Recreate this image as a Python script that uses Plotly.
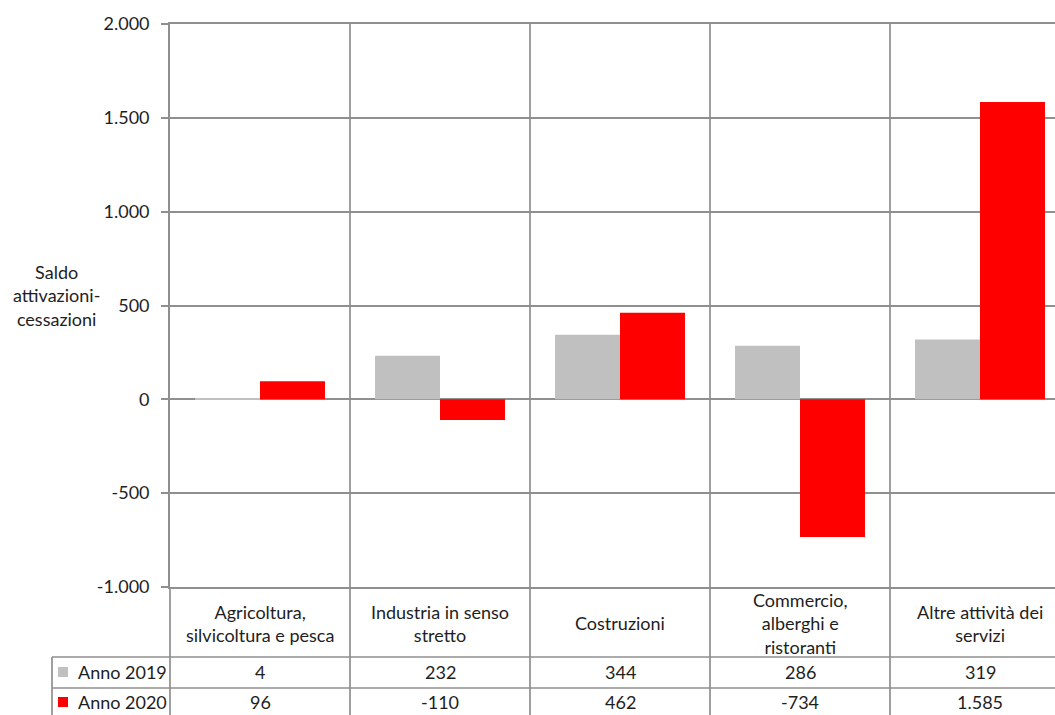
import plotly.graph_objects as go

# ---------------- data ----------------
CATEGORIES = [
    "Agricoltura,<br>silvicoltura e pesca",
    "Industria in senso<br>stretto",
    "Costruzioni",
    "Commercio,<br>alberghi e<br>ristoranti",
    "Altre attività dei<br>servizi",
]
SERIES_NAMES = ["Anno 2019", "Anno 2020"]
VALUES_2019 = [4, 232, 344, 286, 319]
VALUES_2020 = [96, -110, 462, -734, 1585]
TICK_VALUES = [-1000, -500, 0, 500, 1000, 1500, 2000]
TICK_LABELS = ["-1.000", "-500", "0", "500", "1.000", "1.500", "2.000"]
Y_TITLE = "Saldo<br>attivazioni-<br>cessazioni"

# ---------------- style ----------------
COLORS = ["#C0C0C0", "#FF0000"]
GRID = "#8f8f8f"
LW = 1.7
TXT = "#1e1e1e"
FONT = "Lato"
FS = 18

W, H = 1055, 715
L, R, T, B = 170, 1055, 24, 587        # plot area in pixels


def xp(px):
    return (px - L) / (R - L)


def yp(py):
    return (B - py) / (B - T)


def it(v):
    return f"{v:,}".replace(",", ".")


x = list(range(len(CATEGORIES)))
series = [VALUES_2019, VALUES_2020]

fig = go.Figure()
for name, vals, col in zip(SERIES_NAMES, series, COLORS):
    fig.add_trace(go.Bar(x=x, y=vals, name=name, marker=dict(color=col, line=dict(width=0)),
                         hoverinfo="y"))

shapes = []
annotations = []

# vertical category separators through plot and table
for i in range(len(CATEGORIES)):
    b = i + 0.5
    shapes.append(dict(type="line", xref="x", yref="paper", x0=b, x1=b, y0=yp(719), y1=1,
                       line=dict(color=GRID, width=LW), layer="below"))
# left border of table header column
shapes.append(dict(type="line", xref="paper", yref="paper", x0=0, x1=0, y0=yp(719), y1=0,
                   line=dict(color=GRID, width=LW)))
# table horizontal lines
for py in (657, 688):
    shapes.append(dict(type="line", xref="paper", yref="paper", x0=xp(52), x1=1, y0=yp(py), y1=yp(py),
                       line=dict(color=GRID, width=LW)))
shapes.append(dict(type="line", xref="paper", yref="paper", x0=xp(52), x1=xp(52), y0=yp(719), y1=yp(657),
                   line=dict(color=GRID, width=LW)))

# category labels
for i, c in enumerate(CATEGORIES):
    annotations.append(dict(xref="x", yref="paper", x=i, y=yp(623), text=c, showarrow=False,
                            xanchor="center", yanchor="middle", align="center",
                            font=dict(family=FONT, size=FS, color=TXT)))

# table rows
row_y = [672, 702]
for r, (name, vals, col) in enumerate(zip(SERIES_NAMES, series, COLORS)):
    cy = row_y[r]
    shapes.append(dict(type="rect", xref="paper", yref="paper", x0=xp(58), x1=xp(68),
                       y0=yp(cy + 5), y1=yp(cy - 5), fillcolor=col, line=dict(width=0)))
    annotations.append(dict(xref="paper", yref="paper", x=xp(76), y=yp(cy), text=name, showarrow=False,
                            xanchor="left", yanchor="middle",
                            font=dict(family=FONT, size=FS, color=TXT)))
    for i, v in enumerate(vals):
        annotations.append(dict(xref="x", yref="paper", x=i, y=yp(cy), text=it(v), showarrow=False,
                                xanchor="center", yanchor="middle",
                                font=dict(family=FONT, size=FS, color=TXT)))

# y-axis title
annotations.append(dict(xref="paper", yref="paper", x=xp(56), y=yp(295), text=Y_TITLE, showarrow=False,
                        xanchor="center", yanchor="middle", align="center",
                        font=dict(family=FONT, size=FS, color=TXT)))

fig.update_layout(
    width=W, height=H,
    margin=dict(l=L, r=W - R, t=T, b=H - B, pad=0),
    paper_bgcolor="white", plot_bgcolor="white",
    barmode="group", bargap=0.278, bargroupgap=0,
    showlegend=False,
    font=dict(family=FONT, size=FS, color=TXT),
    shapes=shapes, annotations=annotations,
    xaxis=dict(range=[-0.5, -0.5 + (R - L) / 180], showgrid=False, zeroline=False,
               showticklabels=False, ticks="", showline=True, mirror=True,
               linecolor=GRID, linewidth=LW, fixedrange=True),
    yaxis=dict(range=[-1000, 2000], tickvals=TICK_VALUES, ticktext=TICK_LABELS,
               showgrid=True, gridcolor=GRID, gridwidth=LW,
               zeroline=True, zerolinecolor=GRID, zerolinewidth=LW,
               showline=True, linecolor=GRID, linewidth=LW,
               ticks="outside", ticklen=7, tickcolor=GRID, tickwidth=LW,
               ticklabelstandoff=8, tickfont=dict(family=FONT, size=FS, color=TXT),
               fixedrange=True),
)

fig.write_html("out.html", post_script="document.body.style.margin='0';",
               config={"displayModeBar": False})
